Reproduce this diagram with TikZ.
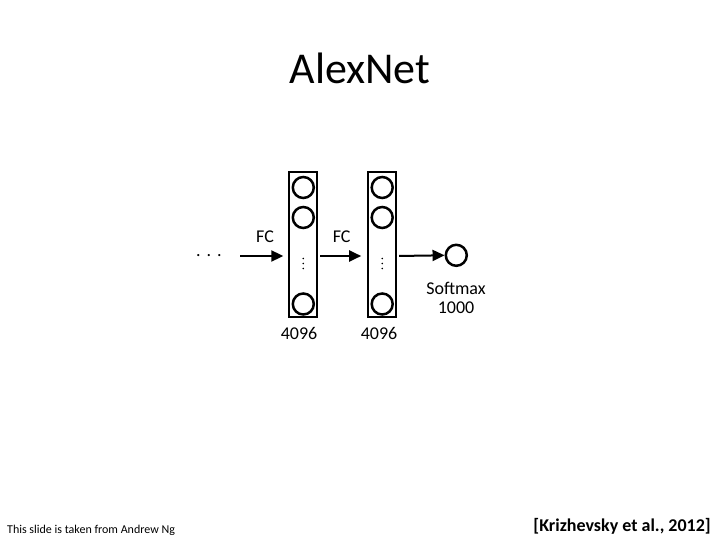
\documentclass[tikz,border=0pt]{standalone}
\usepackage{fontspec}
\setmainfont{Carlito}
\usetikzlibrary{arrows.meta}
\begin{document}
\begin{tikzpicture}[x=1pt,y=-1pt,
  layerbox/.style={draw, line width=2pt, minimum width=28pt, minimum height=144.5pt, inner sep=0pt},
  neuron/.style={draw, circle, line width=2.5pt, minimum size=21pt, inner sep=0pt},
  flow/.style={line width=2pt, -{Triangle[length=12pt,width=11pt]}},
  dotmark/.style={fill=black, circle, inner sep=0pt, minimum size=1.8pt},
  lbl/.style={font=\fontsize{18}{20}\selectfont, inner sep=0pt}]
\useasboundingbox (0,0) rectangle (720,540);
\node[font=\fontsize{44}{48}\selectfont, inner sep=0pt] (title) at (360,68) {AlexNet};

\node[layerbox] (l1) at (303.3,244.75) {};
\node[layerbox] (l2) at (382.2,244.75) {};
\foreach \n/\x in {a/303.3,b/382.2}{
  \node[neuron] (\n1) at (\x,187.5) {};
  \node[neuron] (\n2) at (\x,217.5) {};
  \node[neuron] (\n3) at (\x,304) {};
  \node[dotmark] (\n d1) at (\x,258.5) {};
  \node[dotmark] (\n d2) at (\x,263.5) {};
  \node[dotmark] (\n d3) at (\x,268.5) {};
}
\node[neuron] (out) at (456.3,255.3) {};

\node[lbl, anchor=base] (dots) at (209,256) {.\,\,.\,\,.};
\coordinate (in1) at (240,256);
\draw[flow, shorten >=5pt] (in1) -- (in1 -| l1.west);
\draw[flow, shorten <=2pt, shorten >=6pt] (l1.east |- in1) -- (l2.west |- in1);
\draw[flow, shorten <=2pt] (l2.east |- in1) -- (out.west);

\node[lbl] (fc1) at (265,237) {FC};
\node[lbl] (fc2) at (341.7,237) {FC};
\node[lbl] (n1) at (299,333) {4096};
\node[lbl] (n2) at (379,333) {4096};
\node[lbl] (sm) at (456,288) {Softmax};
\node[lbl] (k) at (456,308) {1000};

\node[anchor=base west, inner sep=0pt, font=\fontsize{12}{14}\selectfont] (foot) at (7,533.5) {This slide is taken from Andrew Ng};
\node[anchor=base east, inner sep=0pt, font=\fontsize{18}{20}\selectfont\bfseries] (cite) at (711,531) {[Krizhevsky et al., 2012]};
\end{tikzpicture}
\end{document}
